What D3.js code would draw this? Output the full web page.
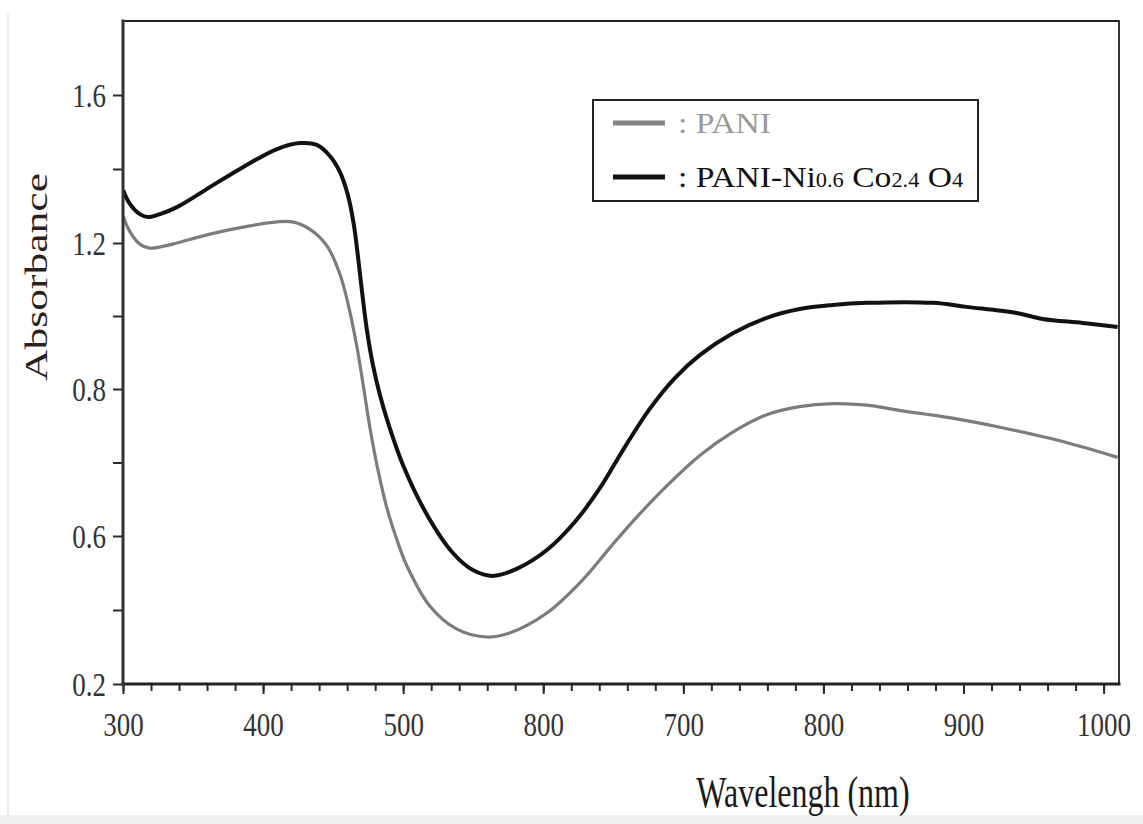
<!DOCTYPE html>
<html>
<head>
<meta charset="utf-8">
<script src="https://cdn.jsdelivr.net/npm/d3@7"></script>
<style>
  html, body { margin: 0; padding: 0; background: #fff; }
  svg { display: block; }
  text { font-family: "Liberation Serif", "Times New Roman", serif; }
</style>
</head>
<body>
<script>
// UV-Vis absorbance spectra: PANI and PANI-Ni0.6Co2.4O4 composite
const paniNm  = [300, 305, 312, 319, 330, 338.5, 362, 385.6, 410, 421, 433, 445.6, 454.8, 460.5, 467, 472, 476.3, 482, 488.4, 495.6, 502.7, 519, 538, 560, 576, 602.6, 628, 647.5, 664, 688, 712, 735, 759.5, 783, 806.6, 831, 854, 890, 926, 961.5, 985, 1010];
const paniAbs = [1.273, 1.230, 1.197, 1.186, 1.192, 1.200, 1.224, 1.243, 1.257, 1.257, 1.238, 1.192, 1.115, 1.036, 0.915, 0.799, 0.747, 0.690, 0.638, 0.589, 0.519, 0.411, 0.349, 0.327, 0.338, 0.392, 0.481, 0.568, 0.620, 0.668, 0.710, 0.741, 0.765, 0.776, 0.780, 0.778, 0.771, 0.761, 0.748, 0.733, 0.721, 0.707];

const compNm  = [300, 305, 312, 317.8, 326.4, 338.5, 362, 385.6, 410, 426.3, 438.4, 447.7, 454.8, 460.5, 464.8, 467.6, 470.5, 474.1, 478.4, 483.4, 488.4, 499.8, 517, 535.5, 549.7, 564, 581, 602.6, 622.5, 640.4, 658.2, 676, 693.9, 711.7, 735.3, 759.5, 783.1, 806.6, 831, 878, 902, 938, 956.5, 985, 1010];
const compAbs = [1.343, 1.305, 1.278, 1.270, 1.278, 1.297, 1.351, 1.405, 1.454, 1.470, 1.465, 1.435, 1.392, 1.330, 1.249, 1.167, 1.071, 0.962, 0.866, 0.792, 0.759, 0.697, 0.629, 0.554, 0.508, 0.492, 0.511, 0.562, 0.619, 0.665, 0.721, 0.773, 0.830, 0.893, 0.953, 0.995, 1.019, 1.030, 1.036, 1.036, 1.025, 1.008, 0.992, 0.981, 0.970];

// Axis ticks and their printed labels
const xTicks      = [300, 400, 500, 600, 700, 800, 900, 1000];
const xTickLabels = ["300", "400", "500", "800", "700", "800", "900", "1000"];
const xMinor      = d3.range(300, 1011, 20);
const yTicks      = [0.2, 0.6, 0.8, 1.2, 1.6];
const yTickLabels = ["0.2", "0.6", "0.8", "1.2", "1.6"];
const yMinor      = [0.4, 0.7, 1.0, 1.4];

const W = 1143, H = 824;
const plot = { left: 123, right: 1119, top: 21, bottom: 684 };

const svg = d3.select("body").append("svg").attr("width", W).attr("height", H);

// page edge and caption strip
svg.append("line").attr("x1", 8).attr("x2", 8).attr("y1", 14).attr("y2", 815)
  .attr("stroke", "#e4e4e4").attr("stroke-width", 1.5);
svg.append("rect").attr("x", 0).attr("y", 815).attr("width", W).attr("height", H - 815)
  .attr("fill", "#efefef");

const x = d3.scaleLinear().domain([300, 1011]).range([plot.left, plot.right]);
// Printed y labels are unevenly spaced, so the scale is piecewise linear through them
const y = d3.scaleLinear()
  .domain([0.2, 0.6, 0.8, 1.2, 1.6, 1.8])
  .range([684, 536, 389, 243, 95, 21]);

// ---- curves
svg.append("clipPath").attr("id", "plotClip").append("rect")
  .attr("x", plot.left).attr("y", plot.top)
  .attr("width", plot.right - plot.left).attr("height", plot.bottom - plot.top);

const line = d3.line()
  .x(d => x(d[0])).y(d => y(d[1]))
  .curve(d3.curveCatmullRom.alpha(0.5));

const curves = svg.append("g").attr("clip-path", "url(#plotClip)");
curves.append("path")
  .datum(paniNm.map((n, i) => [n, paniAbs[i]]))
  .attr("d", line).attr("fill", "none")
  .attr("stroke", "#7c7c7c").attr("stroke-width", 3.2).attr("stroke-linejoin", "round");
curves.append("path")
  .datum(compNm.map((n, i) => [n, compAbs[i]]))
  .attr("d", line).attr("fill", "none")
  .attr("stroke", "#111").attr("stroke-width", 4).attr("stroke-linejoin", "round");

// ---- axes
const xAxisMinor = svg.append("g").attr("transform", `translate(0,${plot.bottom})`)
  .call(d3.axisBottom(x).tickValues(xMinor).tickSize(7).tickFormat(""));
const xAxis = svg.append("g").attr("transform", `translate(0,${plot.bottom})`)
  .call(d3.axisBottom(x).tickValues(xTicks).tickSize(10).tickFormat((d, i) => xTickLabels[i]));

const yAxisMinor = svg.append("g").attr("transform", `translate(${plot.left},0)`)
  .call(d3.axisLeft(y).tickValues(yMinor).tickSize(10).tickFormat(""));
const yAxis = svg.append("g").attr("transform", `translate(${plot.left},0)`)
  .call(d3.axisLeft(y).tickValues(yTicks).tickSize(10).tickFormat((d, i) => yTickLabels[i]));

[xAxisMinor, xAxis, yAxisMinor, yAxis].forEach(g => {
  g.select(".domain").remove();
  g.selectAll(".tick line").attr("stroke", "#2a2a2a").attr("stroke-width", 2);
});

xAxis.selectAll(".tick text")
  .attr("y", 0).attr("dy", 0)
  .attr("transform", "translate(0,52) scale(1,1.28)")
  .attr("font-size", 27).attr("fill", "#333");

yAxis.selectAll(".tick text")
  .attr("x", 0).attr("dy", 0)
  .attr("transform", "translate(-17,11) scale(1,1.25)")
  .attr("font-size", 27).attr("fill", "#333");

// frame
const frame = svg.append("g").attr("stroke-linecap", "square");
frame.append("line").attr("x1", plot.left).attr("x2", plot.right)
  .attr("y1", plot.top).attr("y2", plot.top).attr("stroke", "#222").attr("stroke-width", 2);
frame.append("line").attr("x1", plot.right).attr("x2", plot.right)
  .attr("y1", plot.top).attr("y2", plot.bottom).attr("stroke", "#333").attr("stroke-width", 2);
frame.append("line").attr("x1", plot.left).attr("x2", plot.right)
  .attr("y1", plot.bottom).attr("y2", plot.bottom).attr("stroke", "#222").attr("stroke-width", 3);
frame.append("line").attr("x1", plot.left).attr("x2", plot.left)
  .attr("y1", plot.top).attr("y2", plot.bottom).attr("stroke", "#333").attr("stroke-width", 3);

// axis titles
svg.append("text")
  .attr("transform", "translate(803,807) scale(1,1.38)")
  .attr("text-anchor", "middle").attr("font-size", 32).attr("fill", "#1a1a1a")
  .text("Wavelengh (nm)");

svg.append("text")
  .attr("transform", "translate(47,277) rotate(-90)")
  .attr("text-anchor", "middle").attr("font-size", 32).attr("fill", "#2a211c")
  .attr("textLength", 208).attr("lengthAdjust", "spacingAndGlyphs")
  .text("Absorbance");

// ---- legend
const legend = svg.append("g");
legend.append("rect").attr("x", 593).attr("y", 100).attr("width", 385).attr("height", 101)
  .attr("fill", "#fff").attr("stroke", "#222").attr("stroke-width", 2);

const legendItems = [
  { color: "#858585", text: "#999", cy: 123, parts: [[": PANI", false]] },
  { color: "#111", text: "#111", cy: 177, parts: [[": PANI-Ni", false], ["0.6", true], [" Co", false], ["2.4", true], [" O", false], ["4", true]] }
];

legendItems.forEach(item => {
  legend.append("line").attr("x1", 613).attr("x2", 665).attr("y1", item.cy).attr("y2", item.cy)
    .attr("stroke", item.color).attr("stroke-width", 5);
  const t = legend.append("text")
    .attr("transform", `translate(678,${item.cy + 10}) scale(1.12,1)`)
    .attr("font-size", 30).attr("fill", item.text);
  item.parts.forEach(([s, sub]) => {
    t.append("tspan").attr("font-size", sub ? 20 : 30).attr("dy", 0).text(s);
  });
});
</script>
</body>
</html>
